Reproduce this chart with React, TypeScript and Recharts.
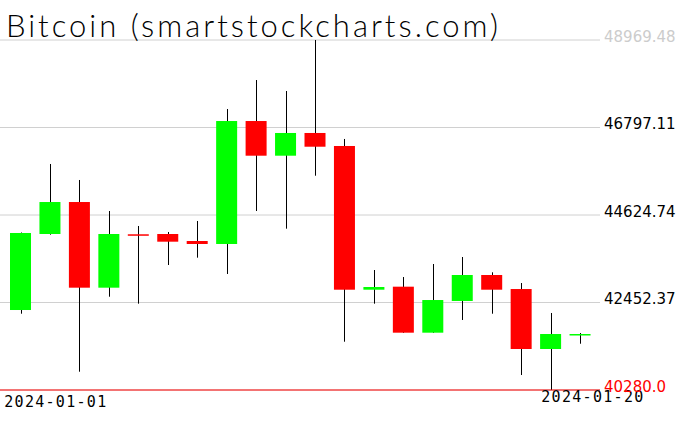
import { ComposedChart, Bar, XAxis, YAxis, CartesianGrid, ReferenceLine } from "recharts";

const dates = [
  "2024-01-01", "2024-01-02", "2024-01-03", "2024-01-04", "2024-01-05",
  "2024-01-06", "2024-01-07", "2024-01-08", "2024-01-09", "2024-01-10",
  "2024-01-11", "2024-01-12", "2024-01-13", "2024-01-14", "2024-01-15",
  "2024-01-16", "2024-01-17", "2024-01-18", "2024-01-19", "2024-01-20",
];
const opens = [42266, 44153, 44947, 42820, 44146, 44153, 43979, 43905, 46958, 46097, 46661, 46338, 42770, 42845, 41703, 42490, 43135, 42787, 41298, 41658];
const highs = [44190, 45891, 45494, 44724, 44352, 44203, 44476, 47256, 47976, 47703, 48969.48, 46512, 43259, 43085, 43408, 43582, 43202, 42936, 42192, 41695];
const lows = [42174, 44136, 40734, 42596, 42423, 43383, 43565, 43160, 44724, 44285, 45600, 41479, 42423, 41700, 41700, 42018, 42174, 40652, 40280, 41429];
const closes = [44178, 44947, 42820, 44153, 44133, 43962, 43905, 46958, 46097, 46661, 46320, 42770, 42837, 41703, 42514, 43135, 42770, 41298, 41670, 41670];

const yTicks = [40280.0, 42452.37, 44624.74, 46797.11, 48969.48];
const yTickLabels = ["40280.0", "42452.37", "44624.74", "46797.11", "48969.48"];

const data = dates.map((d, i) => ({
  date: d,
  open: opens[i],
  high: highs[i],
  low: lows[i],
  close: closes[i],
  range: [lows[i], highs[i]],
}));

const GREEN = "#00ff00";
const RED = "#ff0000";

function Candle(props: any) {
  const { x, y, width, height, payload } = props;
  if (x == null || y == null) return null;
  const top = Math.min(y, y + height);
  const bottom = Math.max(y, y + height);
  const span = payload.high - payload.low;
  const toY = (v: number) => (span > 0 ? top + ((payload.high - v) / span) * (bottom - top) : top);
  const up = payload.close >= payload.open;
  const color = up ? GREEN : RED;
  const bTop = toY(Math.max(payload.open, payload.close));
  const bBot = toY(Math.min(payload.open, payload.close));
  const cx = Math.round(x + width / 2) + 0.5;
  return (
    <g>
      <line x1={cx} x2={cx} y1={top} y2={bottom} stroke="#000" strokeWidth={1} />
      <rect x={x} y={bTop} width={width} height={Math.max(bBot - bTop, 1.5)} fill={color} />
    </g>
  );
}

function YTick(props: any) {
  const { x, y, payload, index } = props;
  const i = yTicks.indexOf(payload.value);
  const label = i >= 0 ? yTickLabels[i] : String(payload.value);
  let fill = "#000";
  if (i === 0) fill = RED;
  if (i === yTicks.length - 1) fill = "#cccccc";
  return (
    <text x={x - 4} y={y + 1.5} fill={fill} fontSize={15} fontFamily="DejaVu Sans" textAnchor="start" key={index}>
      {label}
    </text>
  );
}

function XTick(props: any) {
  const { x, payload, index } = props;
  const last = dates.length - 1;
  if (index === 0) {
    return (
      <text x={x - 16.5} y={407} fill="#000" fontSize={15} fontFamily="DejaVu Sans Mono" letterSpacing={1.3}>
        {payload.value}
      </text>
    );
  }
  if (index === last || payload.value === dates[last]) {
    return (
      <text x={x - 39} y={402} fill="#000" fontSize={15} fontFamily="DejaVu Sans Mono" letterSpacing={1.3}>
        {payload.value}
      </text>
    );
  }
  return <g />;
}

export default function App() {
  return (
    <div style={{ position: "absolute", left: 0, top: 0, width: 676, height: 431, background: "#fff" }}>
      <div
        style={{
          position: "absolute",
          left: 6,
          top: 5,
          fontFamily: "Lato",
          fontWeight: 300,
          fontSize: 31,
          letterSpacing: 3,
          color: "#000",
          lineHeight: "40px",
          whiteSpace: "nowrap",
          zIndex: 2,
        }}
      >
        Bitcoin (smartstockcharts.com)
      </div>
      <ComposedChart width={676} height={431} data={data} margin={{ top: 40, right: 0, bottom: 0, left: 0 }}>
        <CartesianGrid horizontal vertical={false} stroke="#d0d0d0" />
        <XAxis
          dataKey="date"
          type="category"
          height={41}
          axisLine={false}
          tickLine={false}
          interval={0}
          padding={{ left: 6, right: 5 }}
          tick={<XTick />}
        />
        <YAxis
          orientation="right"
          width={76}
          domain={[40280, 48969.48]}
          ticks={yTicks}
          axisLine={false}
          tickLine={false}
          tick={<YTick />}
          allowDataOverflow
        />
        <ReferenceLine y={40280} stroke={RED} strokeWidth={1} />
        <Bar dataKey="range" barSize={21} shape={<Candle />} isAnimationActive={false} />
      </ComposedChart>
    </div>
  );
}
